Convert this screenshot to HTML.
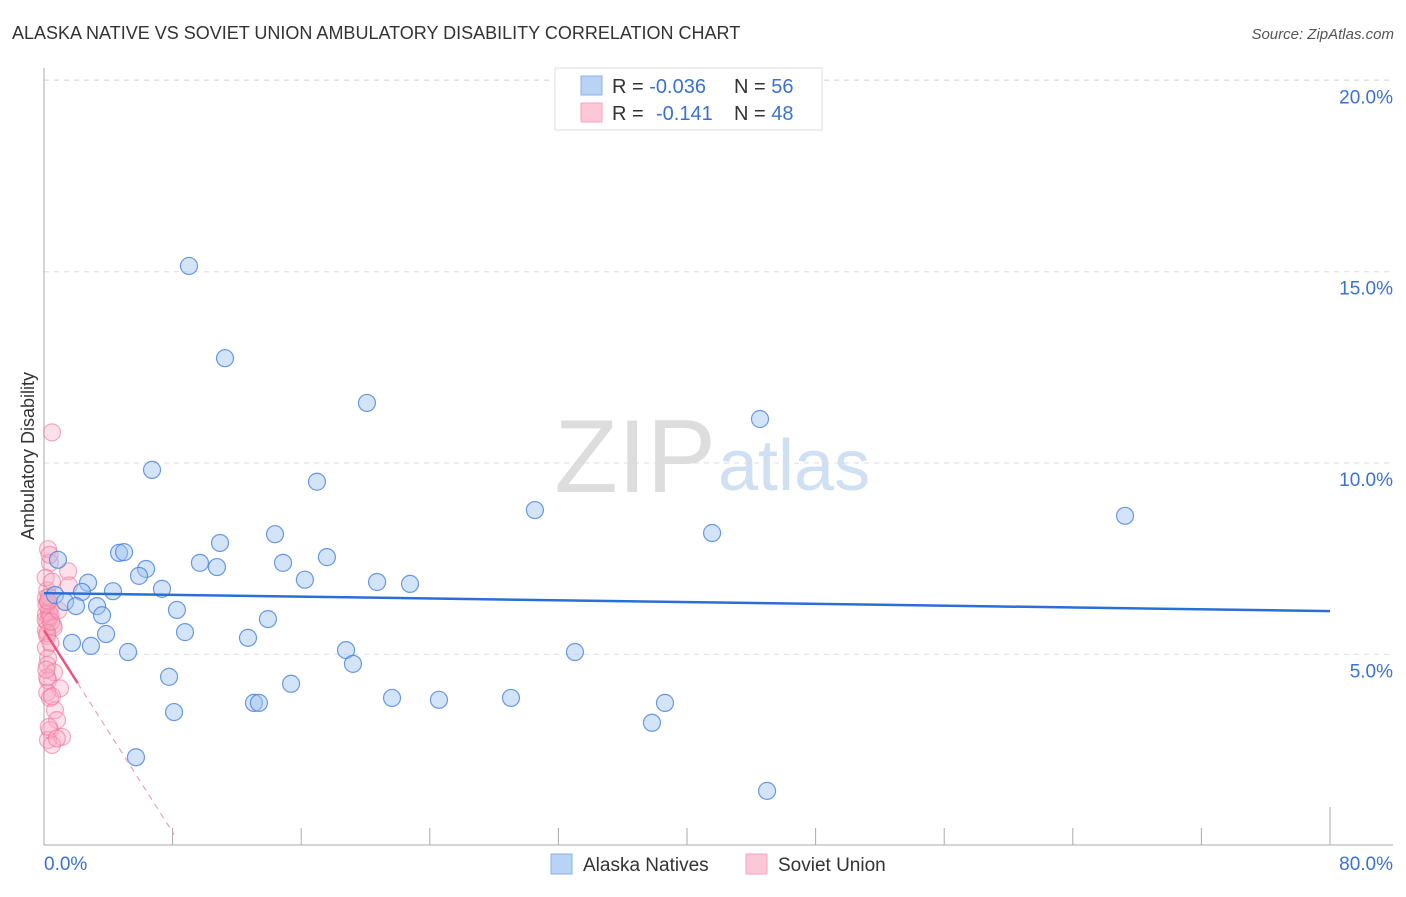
<!DOCTYPE html>
<html><head><meta charset="utf-8"><style>
body{margin:0;background:#fff;font-family:"Liberation Sans",sans-serif}
svg text{font-family:"Liberation Sans",sans-serif}
</style></head><body>
<svg id="c" width="1406" height="892" xmlns="http://www.w3.org/2000/svg">
<text x="12" y="39" font-size="18" fill="#333">ALASKA NATIVE VS SOVIET UNION AMBULATORY DISABILITY CORRELATION CHART</text>
<text x="1394" y="39" font-size="15" fill="#555" font-style="italic" text-anchor="end">Source: ZipAtlas.com</text>
<text x="716" y="492" font-size="104" fill="#ddd" text-anchor="end" font-family="Liberation Serif">ZIP</text>
<text x="718" y="490" font-size="72" fill="#cfe0f3">atlas</text>
<text transform="translate(34,456) rotate(-90)" font-size="18" fill="#333" text-anchor="middle">Ambulatory Disability</text>
<g id="grid"></g><g id="axes"></g><g id="pink"></g><g id="blue"></g><g id="lines"></g>
<g>
<rect x="555" y="68" width="267" height="62" fill="#fff" stroke="#ddd"/>
<rect x="581" y="76" width="21" height="19" fill="#b9d3f5" stroke="#8ab2e8"/>
<rect x="581" y="103" width="21" height="19" fill="#fcc8d8" stroke="#f3a6be"/>
<text x="612" y="93" font-size="20" fill="#333">R = <tspan fill="#3a72d0">-0.036</tspan><tspan x="734">N = </tspan><tspan fill="#3a72d0">56</tspan></text>
<text x="612" y="120" font-size="20" fill="#333">R = <tspan x="656" fill="#3a72d0">-0.141</tspan><tspan x="734">N = </tspan><tspan fill="#3a72d0">48</tspan></text>
</g>
<g>
<rect x="551" y="854" width="21" height="20" fill="#b9d3f5" stroke="#8ab2e8"/>
<text x="583" y="871" font-size="19" fill="#333">Alaska Natives</text>
<rect x="746" y="854" width="21" height="20" fill="#fcc8d8" stroke="#f3a6be"/>
<text x="778" y="871" font-size="19" fill="#333">Soviet Union</text>
</g>
</svg>
<script>
const yTicks=[5,10,15,20];
const yTickLabels=["5.0%","10.0%","15.0%","20.0%"];
const xTicks=[0,8,16,24,32,40,48,56,64,72,80];
const blueX=[9.02,11.26,20.09,44.54,6.72,16.98,30.54,67.25,41.56,14.37,10.95,4.67,4.98,0.87,17.6,14.87,9.7,10.76,6.35,5.91,16.23,20.72,22.77,2.74,7.34,4.29,2.36,0.68,1.31,1.99,3.3,8.27,3.61,13.93,8.77,3.86,12.69,1.74,2.92,5.23,18.79,33.03,19.22,7.78,15.37,21.65,24.57,29.05,13.06,13.37,38.63,8.09,37.82,5.72,44.98];
const blueY=[15.15,12.74,11.57,11.15,9.82,9.51,8.77,8.62,8.17,8.14,7.91,7.65,7.67,7.47,7.54,7.39,7.39,7.28,7.23,7.05,6.95,6.89,6.84,6.87,6.71,6.65,6.63,6.55,6.37,6.26,6.26,6.16,6.02,5.92,5.58,5.53,5.43,5.3,5.22,5.06,5.11,5.06,4.75,4.41,4.23,3.86,3.81,3.86,3.73,3.73,3.73,3.49,3.21,2.31,1.43];
const pinkX=[0.5,0.25,0.37,1.5,1.55,0.2,0.12,0.25,0.37,0.12,0.31,0.2,0.56,0.12,0.2,0.12,0.25,0.2,0.62,0.25,1.0,0.2,0.37,0.68,0.81,0.37,1.12,0.25,0.5,0.3,0.1,0.4,0.15,0.3,0.6,0.2,0.45,0.9,0.1,0.35,0.5,0.2,0.15,0.3,0.8,0.4,0.25,0.5];
const pinkY=[10.8,7.75,7.39,7.17,6.8,6.67,6.47,6.34,6.2,6.05,5.94,5.84,5.76,5.63,5.48,5.17,4.9,4.72,4.53,4.32,4.11,4.0,3.86,3.54,3.28,3.02,2.84,2.76,2.63,6.1,5.9,6.0,6.3,6.5,5.7,5.55,5.85,6.15,7.0,7.6,6.9,4.4,4.6,3.1,2.8,5.3,6.4,3.9];
const blueTrend=[6.6,6.13];
const pinkTrend=[5.63,-0.66];
const X=v=>44+v*16.075, Y=v=>845.6-v*38.26;
const NS="http://www.w3.org/2000/svg";
function mk(p,t,a){const e=document.createElementNS(NS,t);for(const k in a)e.setAttribute(k,a[k]);document.getElementById(p).appendChild(e);return e;}
yTicks.forEach((v,i)=>{
 const l=mk('grid','line',{x1:44,x2:1393,y1:Y(v),y2:Y(v),stroke:'#ddd','stroke-dasharray':'5,5'});
 
 
 const t=mk('grid','text',{x:1393,y:Y(v)+23,'font-size':19,fill:'#3a72d0','text-anchor':'end'});
 t.textContent=yTickLabels[i];
 
 
});
const topGrid=mk('grid','line',{x1:44,x2:1393,y1:80,y2:80,stroke:'#ddd','stroke-dasharray':'5,5'});


const ya=mk('axes','line',{x1:44,x2:44,y1:68,y2:845,stroke:'#aaa'});


const xa=mk('axes','line',{x1:44,x2:1393,y1:845,y2:845,stroke:'#aaa'});


xTicks.forEach((v,i)=>{
 const t=mk('axes','line',{x1:X(v),x2:X(v),y1:i==xTicks.length-1?807:828,y2:845,stroke:'#aaa'});
 
 
});
const l0=mk('axes','text',{x:44,y:870,'font-size':19,fill:'#3a72d0'});l0.textContent='0.0%';


const l1=mk('axes','text',{x:1393,y:870,'font-size':19,fill:'#3a72d0','text-anchor':'end'});l1.textContent='80.0%';


pinkX.forEach((x,i)=>{
 const c=mk('pink','circle',{cx:X(x),cy:Y(pinkY[i]),r:8.5,fill:'rgba(248,170,195,0.35)',stroke:'rgba(236,110,150,0.55)','stroke-width':1.2});
 
 
});
blueX.forEach((x,i)=>{
 const c=mk('blue','circle',{cx:X(x),cy:Y(blueY[i]),r:8.5,fill:'rgba(160,196,240,0.45)',stroke:'rgba(70,130,220,0.8)','stroke-width':1.2});
 
 
});
const bl=mk('lines','line',{x1:X(0),y1:Y(blueTrend[0]),x2:X(80),y2:Y(blueTrend[1]),stroke:'#2a6fd6','stroke-width':2.5});


const pe=v=>pinkTrend[0]+pinkTrend[1]*v;
const ps=mk('lines','line',{x1:X(0),y1:Y(pe(0)),x2:X(2.1),y2:Y(pe(2.1)),stroke:'#e8557f','stroke-width':2.5});


const pd=mk('lines','line',{x1:X(2.1),y1:Y(pe(2.1)),x2:X(8.1),y2:Y(pe(8.1)),stroke:'#eea0b6','stroke-width':1.2,'stroke-dasharray':'6,5'});


</script>
</body></html>
